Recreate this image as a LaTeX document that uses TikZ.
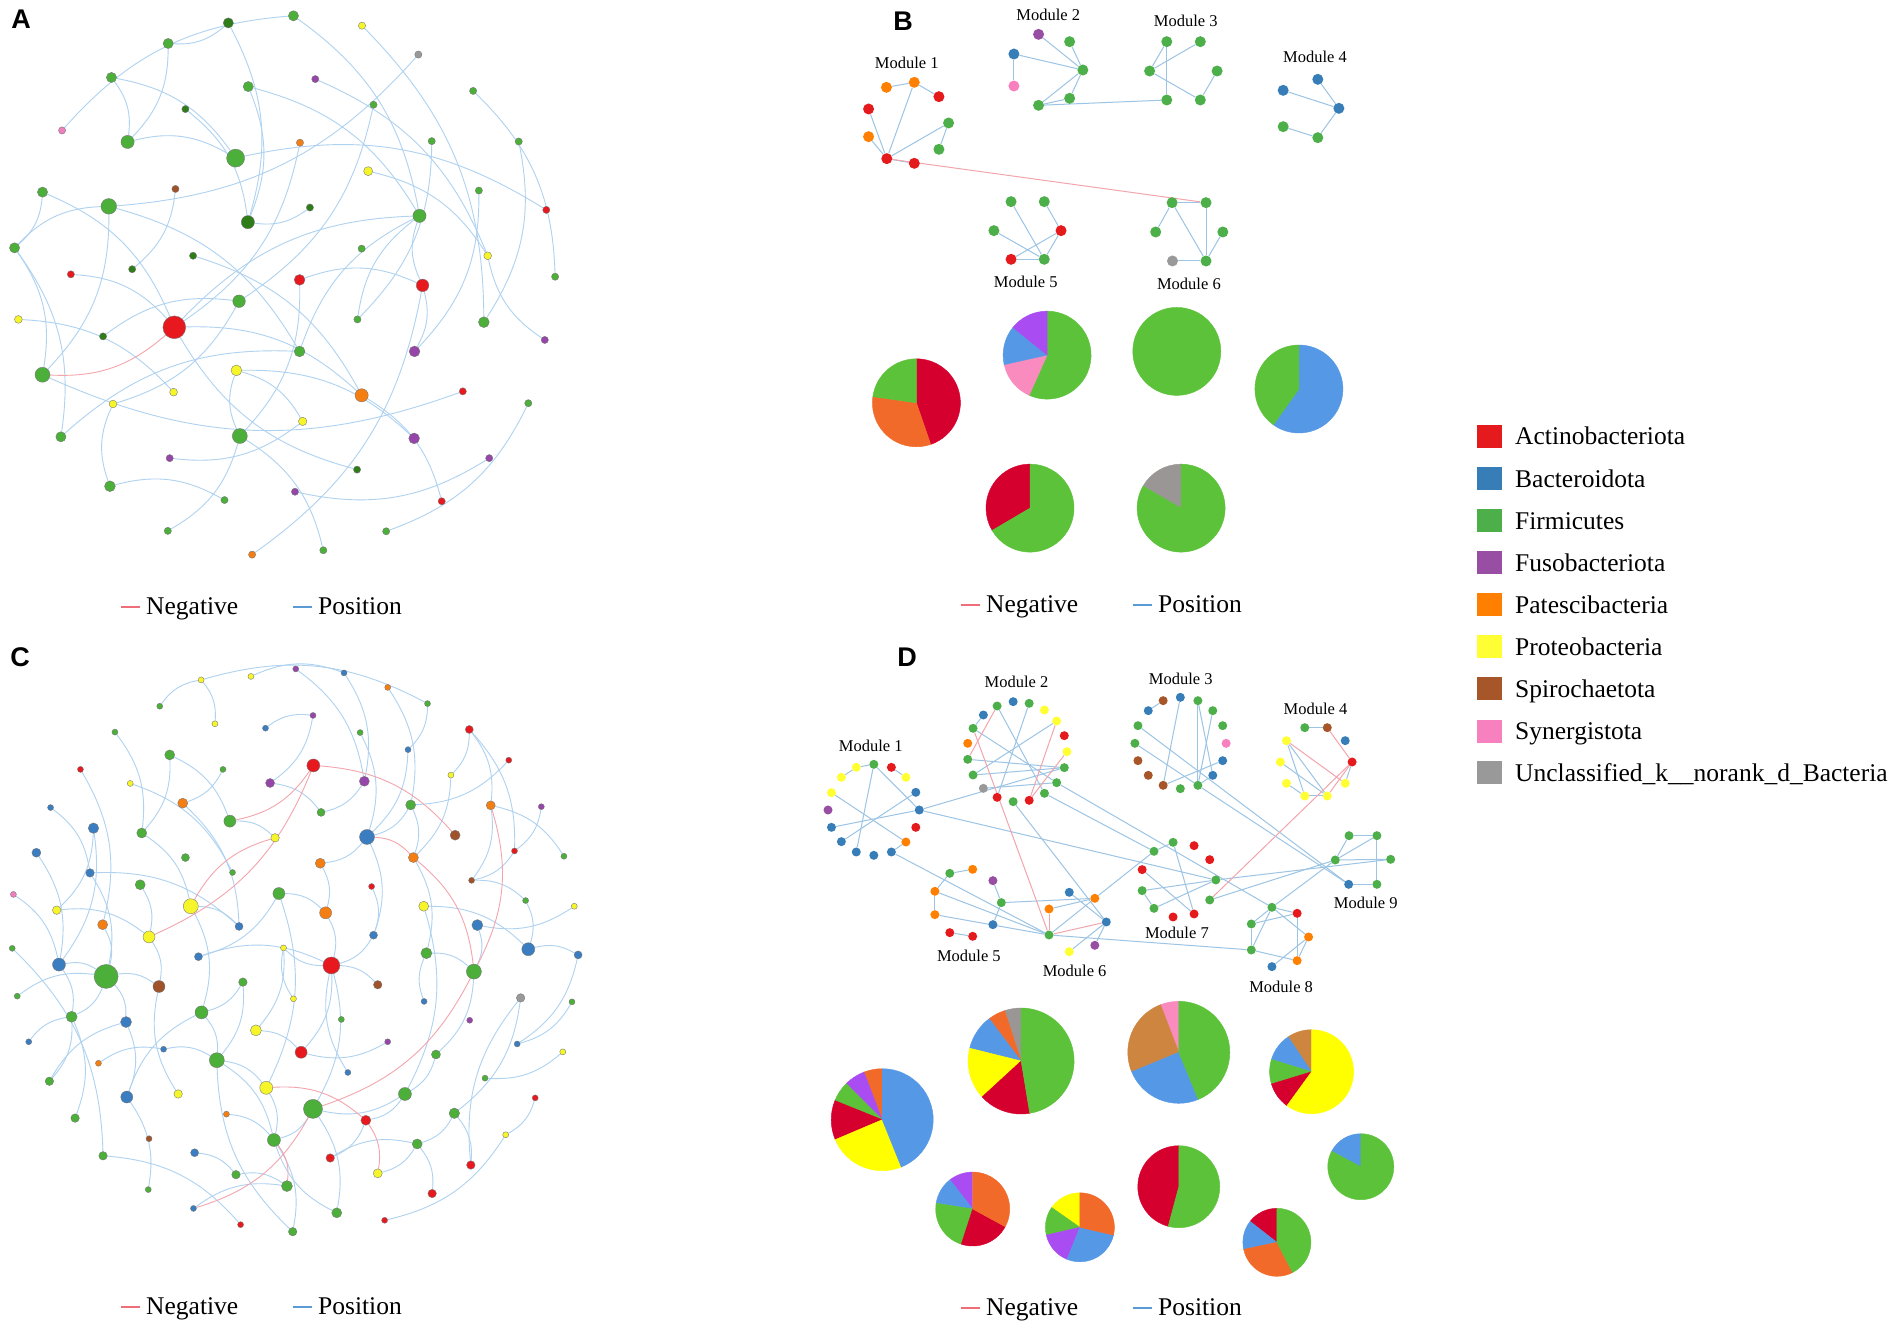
\documentclass[tikz,border=0pt]{standalone}
\usepackage{fontspec}
\setmainfont{Liberation Serif}
\newfontfamily\lsans{Liberation Sans}
\pgfdeclarelayer{bg}
\pgfdeclarelayer{edges}
\pgfsetlayers{bg,edges,main}
% node colours
\definecolor{gG}{HTML}{4CAF3A}\definecolor{gD}{HTML}{2E7D18}\definecolor{gR}{HTML}{E8191E}
\definecolor{gY}{HTML}{F5F52A}\definecolor{gO}{HTML}{F57E12}\definecolor{gP}{HTML}{9646A8}
\definecolor{gB}{HTML}{3A7DC0}\definecolor{gN}{HTML}{A0532A}\definecolor{gK}{HTML}{F07FBF}
\definecolor{gA}{HTML}{999999}
% edges
\definecolor{ePos}{HTML}{AFD2F0}\definecolor{eNeg}{HTML}{F3A5AD}\definecolor{mPos}{HTML}{9CC4E4}
\definecolor{lgPos}{HTML}{5B9BD5}\definecolor{lgNeg}{HTML}{EE6F7A}
% pie colours
\definecolor{pG}{HTML}{5CC23A}\definecolor{pR}{HTML}{D6002F}\definecolor{pO}{HTML}{F26A2A}
\definecolor{pB}{HTML}{5598E6}\definecolor{pU}{HTML}{A94DF2}\definecolor{pK}{HTML}{F98BBF}
\definecolor{pA}{HTML}{9A9696}\definecolor{pY}{HTML}{FFFF00}\definecolor{pT}{HTML}{CD8540}
% legend colours
\definecolor{lR}{HTML}{E41A1C}\definecolor{lB}{HTML}{377EB8}\definecolor{lG}{HTML}{4DAF4A}
\definecolor{lU}{HTML}{984EA3}\definecolor{lO}{HTML}{FF7F00}\definecolor{lY}{HTML}{FFFF33}
\definecolor{lN}{HTML}{A65628}\definecolor{lK}{HTML}{F781BF}\definecolor{lA}{HTML}{999999}
\tikzset{
 vtx/.style={circle,inner sep=0pt,draw=black!55,line width=0.35pt},
 mvtx/.style={circle,inner sep=0pt,draw=none},
 posE/.style={draw=ePos,line width=0.9pt},
 negE/.style={draw=eNeg,line width=0.9pt},
 mposE/.style={draw=mPos,line width=1pt},
 mnegE/.style={draw=eNeg,line width=1pt},
 lgneg/.style={draw=lgNeg,line width=1.4pt},
 lgpos/.style={draw=lgPos,line width=1.4pt},
 modlab/.style={font=\fontsize{16.5}{18}\selectfont,inner sep=0pt},
 lgtxt/.style={font=\fontsize{25.5}{28}\selectfont,anchor=base west,inner sep=0pt},
 panlab/.style={font=\lsans\bfseries\fontsize{27}{30}\selectfont,inner sep=0pt},
 lgsq/.style={rectangle,minimum width=25pt,minimum height=23pt,inner sep=0pt}
}
\newcommand\vx[5]{\pgfmathsetmacro\vsz{#5*1.2}\node[vtx,minimum size=\vsz pt,fill=#4] (#1) at (#2,#3) {};}
\newcommand\vc[5]{\node[vtx,minimum size=#5pt,fill=#4] (#1) at (#2,#3) {};}
\newcommand\mb[4]{\node[mvtx,minimum size=11pt,fill=#4] (#1) at (#2,#3) {};}
\newcommand\md[4]{\node[mvtx,minimum size=9pt,fill=#4] (#1) at (#2,#3) {};}
\newcommand\slc[5]{\filldraw[fill=#5,draw=#5,line width=0.4pt] (#1) -- ++(#2:#4pt) arc[start angle=#2,end angle=#3,radius=#4pt] -- cycle;}
\begin{document}
\begin{tikzpicture}[x=1pt,y=-1pt]
\begin{pgfonlayer}{bg}
\fill[white] (0,0) rectangle (1901,1334);
\end{pgfonlayer}
\useasboundingbox (0,0) rectangle (1901,1334);
% ================= panel labels
\node[panlab] (labA) at (21,19) {A};
\node[panlab] (labB) at (903,21) {B};
\node[panlab] (labC) at (20,657) {C};
\node[panlab] (labD) at (907,657) {D};
% ================= PANEL A
\begin{scope}[x=0.3831pt,y=-0.3953pt]
\vx{a1}{766}{40}{gG}{8.5}\vx{a2}{596}{58}{gD}{8.5}\vx{a3}{945}{65}{gY}{6}\vx{a4}{439}{110}{gG}{8.5}
\vx{a5}{1092}{138}{gA}{6}\vx{a6}{291}{196}{gG}{8.5}\vx{a7}{823}{200}{gP}{6}\vx{a8}{648}{219}{gG}{8.5}
\vx{a9}{1235}{230}{gG}{6}\vx{a10}{484}{276}{gD}{6}\vx{a11}{975}{265}{gG}{6}\vx{a12}{162}{330}{gK}{6}
\vx{a13}{333}{359}{gG}{11}\vx{a14}{783}{361}{gO}{6}\vx{a15}{1127}{357}{gG}{6}\vx{a16}{1354}{358}{gG}{6}
\vx{a17}{615}{400}{gG}{15}\vx{a18}{961}{433}{gY}{7.5}\vx{a19}{458}{478}{gN}{6}\vx{a20}{111}{486}{gG}{8.5}
\vx{a21}{1250}{482}{gG}{6}\vx{a22}{284}{522}{gG}{13}\vx{a23}{809}{525}{gD}{6}\vx{a24}{1426}{531}{gR}{6}
\vx{a25}{647}{562}{gD}{11}\vx{a26}{1095}{546}{gG}{11}\vx{a27}{38}{627}{gG}{8.5}\vx{a28}{944}{629}{gG}{6}
\vx{a29}{504}{647}{gD}{6}\vx{a30}{1273}{647}{gY}{6.5}\vx{a31}{345}{681}{gD}{6}\vx{a32}{1449}{700}{gG}{6}
\vx{a33}{185}{694}{gR}{6}\vx{a34}{782}{708}{gR}{9}\vx{a35}{1103}{722}{gR}{10.5}\vx{a36}{624}{762}{gG}{10.5}
\vx{a37}{48}{808}{gY}{6.5}\vx{a38}{455}{828}{gR}{19}\vx{a39}{933}{808}{gG}{6}\vx{a40}{1263}{815}{gG}{9}
\vx{a41}{269}{851}{gD}{6}\vx{a42}{1422}{860}{gP}{6}\vx{a43}{782}{889}{gG}{9}\vx{a44}{1082}{889}{gP}{9}
\vx{a45}{111}{948}{gG}{12.5}\vx{a46}{617}{937}{gY}{9}\vx{a47}{453}{992}{gY}{6.5}\vx{a48}{944}{1000}{gO}{11}
\vx{a49}{1208}{990}{gR}{6}\vx{a50}{295}{1022}{gY}{6.5}\vx{a51}{1379}{1020}{gG}{6}\vx{a52}{790}{1066}{gY}{7}
\vx{a53}{159}{1105}{gG}{8.5}\vx{a54}{626}{1103}{gG}{12.5}\vx{a55}{1081}{1109}{gP}{9}\vx{a56}{443}{1159}{gP}{6}
\vx{a57}{1277}{1159}{gP}{6}\vx{a58}{932}{1188}{gD}{6}\vx{a59}{287}{1230}{gG}{9}\vx{a60}{586}{1265}{gG}{6}
\vx{a61}{770}{1244}{gP}{6}\vx{a62}{1153}{1268}{gR}{6}\vx{a63}{438}{1343}{gG}{6}\vx{a64}{1008}{1344}{gG}{6}
\vx{a65}{844}{1392}{gG}{6}\vx{a66}{658}{1403}{gO}{6}
\end{scope}
\begin{pgfonlayer}{edges}
\foreach \u/\v in {12/1,4/13,6/13,6/17,13/17,2/25,8/25,8/26,1/26,3/40,5/22,7/30,9/32,11/36,10/25,14/38,15/39,16/40,17/24,19/31,20/38,22/45,22/43,27/22,27/53,27/45,23/25,29/48,33/38,34/35,34/54,35/44,35/66,36/50,37/47,38/48,38/26,39/26,43/26,46/52,46/55,48/62,49/45,51/64,52/56,53/43,54/63,54/65,57/61,59/60,59/50,58/38,41/36,21/44,42/30,18/30,2/4,20/27,35/26,54/46}
 \draw[posE] (a\u) to[bend left=22] (a\v);
\draw[negE] (a38) to[bend left=22] (a45);
\end{pgfonlayer}
% ================= PANEL C
\begin{scope}[yshift=-640pt,x=0.3831pt,y=-0.4386pt]
\vc{c1}{772}{66}{gP}{6}\vc{c2}{898}{75}{gB}{6}\vc{c3}{525}{91}{gY}{6}\vc{c4}{655}{83}{gY}{6}
\vc{c5}{1012}{108}{gO}{6}\vc{c6}{417}{151}{gG}{6}\vc{c7}{1116}{145}{gG}{6}\vc{c8}{561}{191}{gY}{6}
\vc{c9}{817}{172}{gP}{6}\vc{c10}{693}{201}{gB}{6}\vc{c11}{940}{211}{gG}{6}\vc{c12}{300}{210}{gG}{6}
\vc{c13}{1225}{204}{gR}{8}\vc{c14}{210}{295}{gR}{6}\vc{c15}{443}{262}{gG}{10}\vc{c16}{582}{295}{gG}{6}
\vc{c17}{818}{286}{gR}{13}\vc{c18}{1065}{250}{gB}{6}\vc{c19}{1328}{274}{gR}{6}\vc{c20}{340}{327}{gY}{6}
\vc{c21}{705}{326}{gP}{9}\vc{c22}{951}{322}{gP}{10}\vc{c23}{1177}{308}{gY}{6}\vc{c24}{132}{382}{gB}{6}
\vc{c25}{477}{372}{gO}{10}\vc{c26}{838}{393}{gG}{8}\vc{c27}{1072}{376}{gG}{10}\vc{c28}{1281}{377}{gO}{9}
\vc{c29}{1413}{380}{gP}{6}\vc{c30}{244}{429}{gB}{10.5}\vc{c31}{370}{440}{gG}{10}\vc{c32}{600}{413}{gG}{12}
\vc{c33}{958}{449}{gB}{15}\vc{c34}{1188}{445}{gN}{10}\vc{c35}{95}{485}{gB}{9}\vc{c36}{718}{451}{gY}{8.5}
\vc{c37}{1343}{481}{gR}{6}\vc{c38}{1472}{493}{gG}{6}\vc{c39}{484}{496}{gG}{8}\vc{c40}{836}{509}{gO}{10}
\vc{c41}{1079}{496}{gO}{10}\vc{c42}{235}{531}{gB}{8.5}\vc{c43}{607}{530}{gG}{6}\vc{c44}{1231}{548}{gN}{6}
\vc{c45}{970}{562}{gR}{6}\vc{c46}{35}{580}{gK}{6}\vc{c47}{366}{558}{gG}{10}\vc{c48}{728}{578}{gG}{12}
\vc{c49}{1372}{594}{gG}{6}\vc{c50}{148}{616}{gY}{8.5}\vc{c51}{498}{607}{gY}{15}\vc{c52}{850}{622}{gO}{12}
\vc{c53}{1106}{607}{gY}{10}\vc{c54}{1499}{607}{gY}{6}\vc{c55}{268}{649}{gO}{10}\vc{c56}{389}{677}{gY}{12}
\vc{c57}{624}{653}{gB}{8}\vc{c58}{1246}{650}{gB}{11}\vc{c59}{975}{673}{gB}{8}\vc{c60}{32}{703}{gG}{6}
\vc{c61}{740}{702}{gY}{6}\vc{c62}{518}{722}{gB}{8}\vc{c63}{1113}{714}{gG}{11}\vc{c64}{1379}{705}{gB}{13}
\vc{c65}{1509}{718}{gB}{8}\vc{c66}{154}{740}{gB}{13}\vc{c67}{277}{767}{gG}{24}\vc{c68}{865}{742}{gR}{17}
\vc{c69}{1237}{756}{gG}{15}\vc{c70}{415}{790}{gN}{12}\vc{c71}{634}{780}{gG}{8.5}\vc{c72}{986}{786}{gN}{8.5}
\vc{c73}{45}{812}{gG}{6}\vc{c74}{766}{818}{gY}{6}\vc{c75}{1359}{816}{gA}{8.5}\vc{c76}{1493}{825}{gG}{6}
\vc{c77}{1107}{824}{gB}{6}\vc{c78}{187}{859}{gG}{11}\vc{c79}{526}{849}{gG}{13}\vc{c80}{891}{865}{gG}{6}
\vc{c81}{329}{871}{gB}{11}\vc{c82}{1226}{867}{gP}{6}\vc{c83}{668}{890}{gY}{11}\vc{c84}{75}{916}{gB}{6}
\vc{c85}{427}{933}{gB}{6}\vc{c86}{1012}{916}{gP}{6}\vc{c87}{1350}{921}{gB}{6}\vc{c88}{786}{940}{gR}{12}
\vc{c89}{1138}{945}{gG}{9}\vc{c90}{1469}{939}{gY}{6}\vc{c91}{566}{958}{gG}{15}\vc{c92}{257}{965}{gO}{6}
\vc{c93}{908}{986}{gB}{6}\vc{c94}{129}{1006}{gG}{8.5}\vc{c95}{1266}{999}{gG}{6}\vc{c96}{465}{1035}{gY}{8.5}
\vc{c97}{695}{1021}{gY}{13}\vc{c98}{331}{1042}{gB}{12}\vc{c99}{1057}{1035}{gG}{13}\vc{c100}{817}{1069}{gG}{19}
\vc{c101}{1397}{1044}{gR}{6}\vc{c102}{591}{1081}{gO}{6}\vc{c103}{196}{1090}{gG}{8.5}\vc{c104}{955}{1095}{gR}{10}
\vc{c105}{1186}{1079}{gG}{10.5}\vc{c106}{389}{1137}{gN}{6}\vc{c107}{715}{1140}{gG}{13}\vc{c108}{1320}{1128}{gY}{6}
\vc{c109}{1089}{1149}{gG}{10}\vc{c110}{508}{1169}{gB}{8}\vc{c111}{269}{1176}{gG}{8.5}\vc{c112}{862}{1181}{gR}{8.5}
\vc{c113}{986}{1216}{gY}{9}\vc{c114}{1229}{1197}{gR}{8.5}\vc{c115}{616}{1219}{gG}{8.5}\vc{c116}{749}{1245}{gG}{11}
\vc{c117}{387}{1253}{gG}{6}\vc{c118}{1128}{1262}{gR}{8.5}\vc{c119}{505}{1296}{gB}{6}\vc{c120}{879}{1306}{gG}{10}
\vc{c121}{628}{1333}{gR}{6}\vc{c122}{1004}{1323}{gR}{6}\vc{c123}{764}{1349}{gG}{8.5}
\end{scope}
\begin{pgfonlayer}{edges}
\foreach \u/\v in {3/7,6/3,3/8,4/2,1/22,10/9,5/27,12/31,14/55,15/32,15/31,16/25,21/26,22/26,18/33,11/33,13/37,13/23,19/27,23/41,27/33,27/41,28/38,24/42,30/50,30/66,35/66,25/57,20/43,31/51,32/36,33/40,33/59,40/52,41/63,42/57,42/67,46/66,47/56,48/52,48/62,48/97,49/64,50/56,51/79,51/57,52/68,53/64,53/99,54/58,55/67,56/70,58/69,59/68,60/111,61/83,62/68,63/69,64/65,66/67,66/78,67/78,67/81,67/70,68/72,68/88,68/100,68/61,69/89,71/79,71/91,73/67,74/61,75/105,76/87,77/63,78/94,78/103,79/91,81/98,83/88,84/78,85/91,86/88,89/99,90/95,91/97,91/107,92/85,93/68,94/81,96/70,97/107,98/79,98/117,99/104,99/100,100/107,100/120,101/108,102/107,104/112,105/109,105/114,107/123,108/122,109/118,109/113,110/115,111/121,112/109,114/75,115/116,119/116,120/107,123/91,44/49,45/59,37/44,28/44,7/18,13/28,2/22,9/21,65/87,29/37}
 \draw[posE] (c\u) to[bend left=22] (c\v);
\foreach \u/\v in {17/32,17/56,17/34,51/36,33/41,41/69,28/69,69/100,97/104,104/113,100/119,107/116}
 \draw[negE] (c\u) to[bend left=22] (c\v);
\end{pgfonlayer}
% ================= PANEL B networks
\begin{scope}[xshift=840pt,x=0.3571pt,y=-0.3333pt]
\node[modlab] (bL1) at (187,190) {Module 1};
\node[modlab] (bL2) at (583,45) {Module 2};
\node[modlab] (bL3) at (968,62) {Module 3};
\node[modlab] (bL4) at (1330,170) {Module 4};
\node[modlab] (bL5) at (520,845) {Module 5};
\node[modlab] (bL6) at (977,852) {Module 6};
\mb{b1a}{130}{262}{lO}\mb{b1b}{208}{247}{lO}\mb{b1c}{277}{290}{lR}\mb{b1d}{80}{327}{lR}
\mb{b1e}{304}{369}{lG}\mb{b1f}{80}{410}{lO}\mb{b1g}{277}{448}{lG}\mb{b1h}{131}{476}{lR}\mb{b1i}{208}{490}{lR}
\mb{b2a}{556}{103}{lU}\mb{b2b}{643}{125}{lG}\mb{b2c}{487}{162}{lB}\mb{b2d}{680}{210}{lG}
\mb{b2e}{487}{258}{lK}\mb{b2f}{643}{295}{lG}\mb{b2g}{556}{316}{lG}
\mb{b3a}{915}{125}{lG}\mb{b3b}{1009}{125}{lG}\mb{b3c}{867}{213}{lG}\mb{b3d}{1056}{213}{lG}
\mb{b3e}{1009}{300}{lG}\mb{b3f}{915}{300}{lG}
\mb{b4a}{1338}{238}{lB}\mb{b4b}{1241}{271}{lB}\mb{b4c}{1397}{325}{lB}\mb{b4d}{1241}{380}{lG}\mb{b4e}{1338}{413}{lG}
\mb{b5a}{479}{605}{lG}\mb{b5b}{572}{605}{lG}\mb{b5c}{431}{692}{lG}\mb{b5d}{619}{692}{lR}
\mb{b5e}{479}{778}{lR}\mb{b5f}{572}{778}{lG}
\mb{b6a}{930}{608}{lG}\mb{b6b}{1025}{608}{lG}\mb{b6c}{884}{696}{lG}\mb{b6d}{1072}{696}{lG}
\mb{b6e}{931}{783}{lA}\mb{b6f}{1025}{783}{lG}
\end{scope}
\begin{pgfonlayer}{edges}
\foreach \u/\v in {1a/1b,1b/1c,1d/1h,1f/1h,1b/1h,1e/1h,1e/1g,1h/1i,2a/2d,2b/2d,2c/2d,2c/2e,2d/2g,2d/2f,2f/2g,2g/3f,3a/3c,3a/3f,3b/3c,3c/3e,3d/3e,4a/4c,4b/4c,4c/4e,4d/4e,5a/5f,5b/5d,5c/5f,5d/5e,5d/5f,5e/5f,6a/6b,6a/6c,6a/6f,6b/6f,6d/6f,6e/6f}
 \draw[mposE] (b\u) -- (b\v);
\draw[mnegE] (b1h) -- (b6b);
\end{pgfonlayer}
% ================= PANEL B pies
\coordinate (p1) at (916.4,402.8);\coordinate (p2) at (1047.1,355.1);\coordinate (p3) at (1176.8,351.4);
\coordinate (p4) at (1298.9,389);\coordinate (p5) at (1030,508.1);\coordinate (p6) at (1181.1,508.1);
\slc{p1}{-71}{90}{44}{pR}\slc{p1}{172}{289}{44}{pO}\slc{p1}{90}{172}{44}{pG}
\slc{p2}{-114}{90}{44}{pG}\slc{p2}{192.5}{246}{44}{pK}\slc{p2}{141}{192.5}{44}{pB}\slc{p2}{90}{141}{44}{pU}
\slc{p3}{0}{360}{44}{pG}
\slc{p4}{-125.5}{90}{44}{pB}\slc{p4}{90}{234.5}{44}{pG}
\slc{p5}{90}{210.5}{44}{pR}\slc{p5}{210.5}{450}{44}{pG}
\slc{p6}{90}{150}{44}{pA}\slc{p6}{150}{450}{44}{pG}
% ================= PANEL D networks
\begin{scope}[xshift=820pt,yshift=-640pt,x=0.3817pt,y=-0.3333pt]
\node[modlab] (dL1) at (133,318) {Module 1};
\node[modlab] (dL2) at (515,125) {Module 2};
\node[modlab] (dL3) at (945,118) {Module 3};
\node[modlab] (dL4) at (1298,207) {Module 4};
\node[modlab] (dL5) at (390,947) {Module 5};
\node[modlab] (dL6) at (667,992) {Module 6};
\node[modlab] (dL7) at (935,880) {Module 7};
\node[modlab] (dL8) at (1208,1040) {Module 8};
\node[modlab] (dL9) at (1430,790) {Module 9};
% module 1
\md{d1a}{141}{373}{lG}\md{d1b}{187}{382}{lR}\md{d1c}{95}{382}{lY}\md{d1d}{56}{412}{lY}
\md{d1e}{225}{412}{lY}\md{d1f}{30}{458}{lY}\md{d1g}{251}{457}{lB}\md{d1h}{21}{510}{lU}
\md{d1i}{260}{510}{lB}\md{d1j}{30}{562}{lB}\md{d1k}{251}{562}{lR}\md{d1l}{56}{605}{lB}
\md{d1m}{225}{606}{lO}\md{d1n}{95}{636}{lB}\md{d1o}{141}{646}{lB}\md{d1p}{187}{636}{lB}
% module 2
\md{d2a}{506}{185}{lB}\md{d2b}{464}{198}{lG}\md{d2c}{548}{190}{lG}\md{d2d}{428}{225}{lB}
\md{d2e}{588}{210}{lY}\md{d2f}{620}{243}{lY}\md{d2g}{401}{265}{lG}\md{d2h}{640}{287}{lR}
\md{d2i}{387}{310}{lO}\md{d2j}{647}{335}{lY}\md{d2k}{387}{358}{lG}\md{d2l}{640}{383}{lG}
\md{d2m}{401}{405}{lG}\md{d2n}{620}{428}{lG}\md{d2o}{428}{445}{lA}\md{d2p}{588}{460}{lG}
\md{d2q}{464}{472}{lR}\md{d2r}{548}{481}{lR}\md{d2s}{506}{485}{lG}
% module 3
\md{d3a}{944}{172}{lB}\md{d3b}{899}{182}{lN}\md{d3c}{990}{182}{lG}\md{d3d}{860}{212}{lB}
\md{d3e}{1029}{212}{lG}\md{d3f}{833}{257}{lG}\md{d3g}{1055}{257}{lG}\md{d3h}{825}{310}{lG}
\md{d3i}{1064}{310}{lK}\md{d3j}{833}{362}{lN}\md{d3k}{1055}{362}{lB}\md{d3l}{860}{406}{lN}
\md{d3m}{1029}{406}{lB}\md{d3n}{899}{436}{lN}\md{d3o}{990}{436}{lG}\md{d3p}{944}{446}{lG}
% module 4
\md{d4a}{1270}{263}{lG}\md{d4b}{1329}{263}{lN}\md{d4c}{1222}{302}{lY}\md{d4d}{1376}{302}{lB}
\md{d4e}{1206}{366}{lY}\md{d4f}{1394}{366}{lR}\md{d4g}{1222}{430}{lY}\md{d4h}{1376}{430}{lY}
\md{d4i}{1270}{468}{lY}\md{d4j}{1329}{468}{lY}
% module 5
\md{d5a}{340}{700}{lG}\md{d5b}{400}{688}{lO}\md{d5c}{453}{722}{lU}\md{d5d}{301}{754}{lO}
\md{d5e}{475}{788}{lG}\md{d5f}{301}{824}{lO}\md{d5g}{453}{854}{lB}\md{d5h}{340}{878}{lR}\md{d5i}{400}{889}{lR}
% module 6
\md{d6a}{653}{757}{lB}\md{d6b}{720}{775}{lO}\md{d6c}{600}{807}{lO}\md{d6d}{750}{846}{lB}
\md{d6e}{600}{885}{lG}\md{d6f}{653}{935}{lY}\md{d6g}{720}{916}{lU}
% module 7
\md{d7a}{925}{607}{lG}\md{d7b}{980}{617}{lR}\md{d7c}{875}{634}{lG}\md{d7d}{1021}{659}{lR}
\md{d7e}{844}{689}{lR}\md{d7f}{1037}{720}{lG}\md{d7g}{844}{752}{lG}\md{d7h}{1021}{780}{lG}
\md{d7i}{875}{805}{lG}\md{d7j}{925}{831}{lR}\md{d7k}{980}{822}{lR}
% module 8
\md{d8a}{1184}{802}{lG}\md{d8b}{1250}{820}{lR}\md{d8c}{1130}{852}{lG}\md{d8d}{1280}{891}{lO}
\md{d8e}{1130}{930}{lG}\md{d8f}{1250}{962}{lO}\md{d8g}{1184}{980}{lB}
% module 9
\md{d9a}{1386}{587}{lG}\md{d9b}{1459}{587}{lG}\md{d9c}{1350}{660}{lG}\md{d9d}{1495}{658}{lG}
\md{d9e}{1385}{733}{lB}\md{d9f}{1459}{733}{lG}
\end{scope}
\begin{pgfonlayer}{edges}
\foreach \u/\v in {1c/1a,1d/1c,1a/1n,1a/1i,1b/1e,1f/1m,1j/1i,1l/1g,1p/1m,1i/2l,1i/7f,1p/6e,2b/2p,2f/2m,2k/2l,2m/2l,2o/2n,2c/2q,2g/2n,2d/2g,2p/7c,2n/8a,2s/6d,3d/3b,3a/3n,3c/3o,3e/3o,3c/3m,3n/3k,3o/3m,3h/3o,3f/9e,3o/9e,4a/4b,4c/4i,4c/4j,4e/4j,4g/4i,4i/4j,4f/4h,5a/5b,5a/5d,5c/5e,5d/5f,5d/6e,5e/5g,5h/5i,5f/6e,5e/6b,6a/6d,6d/6f,6d/6g,6e/6b,6c/6b,6b/7c,6e/8e,7a/7c,7a/7k,7e/7k,7g/7f,7i/7f,7i/7g,7f/9d,7h/9c,8a/8b,8a/8c,8c/8b,8a/8d,8b/8f,8c/8e,8a/8e,8d/8f,8e/8f,8g/8d,8a/9c,9a/9b,9a/9c,9b/9c,9c/9d,9b/9f,9e/9f}
 \draw[mposE] (d\u) -- (d\v);
\foreach \u/\v in {2b/2k,2f/2r,2j/2r,2g/6e,4b/4f,4c/4h,4f/4j,4f/7h,6e/6d,6c/6e}
 \draw[mnegE] (d\u) -- (d\v);
\end{pgfonlayer}
% ================= PANEL D pies
\coordinate (q1) at (882.2,1119.7);\coordinate (q2) at (1021.1,1061);\coordinate (q3) at (1178.8,1052.3);
\coordinate (q4) at (1311.6,1071.7);\coordinate (q5) at (972.7,1209);\coordinate (q6) at (1079.9,1227.3);
\coordinate (q7) at (1178.8,1186.7);\coordinate (q8) at (1276.9,1242.3);\coordinate (q9) at (1360.8,1166.7);
\slc{q1}{90}{111}{51}{pO}\slc{q1}{111}{135}{51}{pU}\slc{q1}{135}{158}{51}{pG}\slc{q1}{158}{203}{51}{pR}\slc{q1}{203}{292}{51}{pY}\slc{q1}{292}{450}{51}{pB}
\slc{q2}{90}{108}{53}{pA}\slc{q2}{108}{127}{53}{pO}\slc{q2}{127}{166}{53}{pB}\slc{q2}{166}{222.6}{53}{pY}\slc{q2}{222.6}{279.4}{53}{pR}\slc{q2}{279.4}{450}{53}{pG}
\slc{q3}{90}{111}{51}{pK}\slc{q3}{111}{202.5}{51}{pT}\slc{q3}{202.5}{292.5}{51}{pB}\slc{q3}{292.5}{450}{51}{pG}
\slc{q4}{90}{124}{42}{pT}\slc{q4}{124}{163}{42}{pB}\slc{q4}{163}{197}{42}{pG}\slc{q4}{197}{234}{42}{pR}\slc{q4}{234}{450}{42}{pY}
\slc{q5}{90}{128}{37}{pU}\slc{q5}{128}{171}{37}{pB}\slc{q5}{171}{252}{37}{pG}\slc{q5}{252}{331.4}{37}{pR}\slc{q5}{331.4}{450}{37}{pO}
\slc{q6}{90}{145}{34.5}{pY}\slc{q6}{145}{193}{34.5}{pG}\slc{q6}{193}{248}{34.5}{pU}\slc{q6}{248}{347}{34.5}{pB}\slc{q6}{347}{450}{34.5}{pO}
\slc{q7}{90}{255}{41}{pR}\slc{q7}{255}{450}{41}{pG}
\slc{q8}{90}{142}{34}{pR}\slc{q8}{142}{192}{34}{pB}\slc{q8}{192}{297.4}{34}{pO}\slc{q8}{297.4}{450}{34}{pG}
\slc{q9}{90}{152}{33}{pB}\slc{q9}{152}{450}{33}{pG}
% ================= Negative / Position legends
\coordinate (nA1) at (121,607);\coordinate (nA2) at (140,607);\coordinate (pA1) at (293,607);\coordinate (pA2) at (312,607);
\coordinate (nB1) at (961,605);\coordinate (nB2) at (980,605);\coordinate (pB1) at (1133,605);\coordinate (pB2) at (1152,605);
\coordinate (nC1) at (121,1307);\coordinate (nC2) at (140,1307);\coordinate (pC1) at (293,1307);\coordinate (pC2) at (312,1307);
\coordinate (nD1) at (961,1308);\coordinate (nD2) at (980,1308);\coordinate (pD1) at (1133,1308);\coordinate (pD2) at (1152,1308);
\draw[lgneg] (nA1) -- (nA2); \node[lgtxt] (negA) at (146,614) {Negative};
\draw[lgpos] (pA1) -- (pA2); \node[lgtxt] (posA) at (318,614) {Position};
\draw[lgneg] (nB1) -- (nB2); \node[lgtxt] (negB) at (986,612) {Negative};
\draw[lgpos] (pB1) -- (pB2); \node[lgtxt] (posB) at (1158,612) {Position};
\draw[lgneg] (nC1) -- (nC2); \node[lgtxt] (negC) at (146,1314) {Negative};
\draw[lgpos] (pC1) -- (pC2); \node[lgtxt] (posC) at (318,1314) {Position};
\draw[lgneg] (nD1) -- (nD2); \node[lgtxt] (negD) at (986,1315) {Negative};
\draw[lgpos] (pD1) -- (pD2); \node[lgtxt] (posD) at (1158,1315) {Position};
% ================= taxonomy legend
\foreach \i/\y/\c/\t in {1/436/lR/Actinobacteriota,2/478.3/lB/Bacteroidota,3/520.7/lG/Firmicutes,4/562.7/lU/Fusobacteriota,5/604.7/lO/Patescibacteria,6/646.7/lY/Proteobacteria,7/688.7/lN/Spirochaetota,8/731/lK/Synergistota,9/772.3/lA/Unclassified\_k\_\_norank\_d\_Bacteria}{
 \node[lgsq,fill=\c] (lsq\i) at (1489.5,\y) {};
 \node[lgtxt] (ltx\i) at (1515,\y+8.7) {\t};
}
\end{tikzpicture}
\end{document}
